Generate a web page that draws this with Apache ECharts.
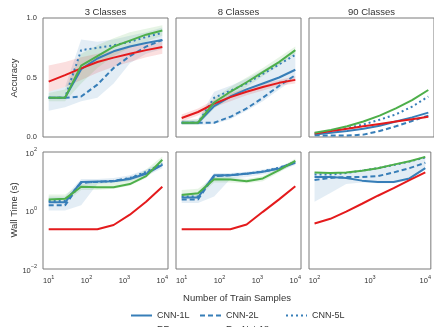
<!DOCTYPE html>
<html>
<head>
<meta charset="utf-8">
<script src="https://cdn.jsdelivr.net/npm/echarts@6/dist/echarts.min.js"></script>
<style>
html, body { margin: 0; padding: 0; background: #fff; }
#chart { width: 434px; height: 327px; }
</style>
</head>
<body>
<div id="chart"></div>
<script>
// train sample sizes
var nSmall = [10, 27, 72, 193, 518, 1389, 3728, 10000];
var nBig = [100, 193, 373, 720, 1389, 2683, 5179, 10000];

// accuracy - 3 classes
var acc3Cnn1 = [0.33, 0.33, 0.57, 0.66, 0.72, 0.76, 0.79, 0.815];
var acc3Cnn2 = [0.33, 0.33, 0.34, 0.44, 0.58, 0.68, 0.76, 0.815];
var acc3Cnn5 = [0.33, 0.33, 0.73, 0.75, 0.77, 0.80, 0.84, 0.875];
var acc3Rf   = [0.465, 0.52, 0.577, 0.63, 0.667, 0.70, 0.73, 0.757];
var acc3Res  = [0.33, 0.33, 0.60, 0.68, 0.76, 0.81, 0.86, 0.895];
// accuracy - 8 classes
var acc8Cnn1 = [0.12, 0.12, 0.26, 0.34, 0.40, 0.45, 0.50, 0.565];
var acc8Cnn2 = [0.12, 0.12, 0.12, 0.17, 0.24, 0.33, 0.43, 0.52];
var acc8Cnn5 = [0.12, 0.12, 0.33, 0.39, 0.45, 0.53, 0.61, 0.69];
var acc8Rf   = [0.16, 0.21, 0.28, 0.335, 0.38, 0.42, 0.455, 0.48];
var acc8Res  = [0.12, 0.12, 0.29, 0.38, 0.46, 0.545, 0.63, 0.73];
// accuracy - 90 classes
var acc90Cnn1 = [0.02, 0.035, 0.05, 0.07, 0.095, 0.13, 0.165, 0.205];
var acc90Cnn2 = [0.015, 0.012, 0.012, 0.02, 0.05, 0.09, 0.135, 0.18];
var acc90Cnn5 = [0.03, 0.05, 0.075, 0.105, 0.145, 0.19, 0.255, 0.34];
var acc90Rf   = [0.03, 0.05, 0.07, 0.09, 0.11, 0.13, 0.15, 0.17];
var acc90Res  = [0.035, 0.06, 0.09, 0.13, 0.18, 0.24, 0.31, 0.395];

// wall time (s) - 3 classes
var time3Cnn1 = [1.9, 1.9, 9.5, 9.8, 10, 12, 18, 36];
var time3Cnn2 = [1.5, 1.5, 9.0, 9.5, 10.5, 12.5, 19, 38];
var time3Cnn5 = [2.1, 2.1, 9.0, 9.5, 10, 13, 21, 40];
var time3Rf   = [0.23, 0.23, 0.23, 0.23, 0.32, 0.72, 2.0, 6.5];
var time3Res  = [2.4, 2.5, 6.5, 6.2, 6.2, 8, 15, 54];
// wall time - 8 classes
var time8Cnn1 = [2.8, 2.8, 16, 16, 18, 21, 27, 43];
var time8Cnn2 = [2.4, 2.4, 15, 16, 18.5, 21, 28, 45];
var time8Cnn5 = [3.0, 3.0, 15, 16.5, 18, 22, 29, 46];
var time8Rf   = [0.23, 0.23, 0.23, 0.23, 0.33, 0.9, 2.4, 6.7];
var time8Res  = [3.4, 3.9, 11.7, 11.5, 10, 12.5, 24, 50];
// wall time - 90 classes
var time90Cnn1 = [14, 14, 13, 10.5, 9.5, 9.5, 12.5, 28];
var time90Cnn2 = [11, 13, 14, 14, 15, 20, 28, 43];
var time90Cnn5 = [17, 17, 19, 23, 28, 36, 47, 65];
var time90Rf   = [0.36, 0.52, 0.92, 1.7, 3.2, 5.8, 11, 20];
var time90Res  = [20, 19, 20, 23, 28, 37, 48, 68];

// spread of the individual runs (faint lines), lower / upper
var acc3RfLo  = [0.38, 0.42, 0.48, 0.54, 0.59, 0.63, 0.67, 0.70];
var acc3RfHi  = [0.60, 0.63, 0.67, 0.70, 0.73, 0.76, 0.78, 0.80];
var acc3ResLo = [0.30, 0.30, 0.45, 0.58, 0.68, 0.75, 0.80, 0.85];
var acc3ResHi = [0.37, 0.40, 0.70, 0.77, 0.83, 0.88, 0.91, 0.94];
var acc3CnnLo = [0.22, 0.25, 0.30, 0.33, 0.45, 0.62, 0.70, 0.74];
var acc3CnnHi = [0.38, 0.42, 0.82, 0.80, 0.82, 0.85, 0.88, 0.92];
var acc8RfLo  = [0.13, 0.18, 0.25, 0.30, 0.35, 0.39, 0.43, 0.45];
var acc8RfHi  = [0.19, 0.24, 0.31, 0.37, 0.41, 0.45, 0.48, 0.51];
var acc8ResLo = [0.10, 0.10, 0.24, 0.33, 0.42, 0.51, 0.60, 0.70];
var acc8ResHi = [0.14, 0.15, 0.33, 0.42, 0.50, 0.58, 0.67, 0.76];
var acc8CnnLo = [0.10, 0.10, 0.11, 0.15, 0.22, 0.30, 0.40, 0.49];
var acc8CnnHi = [0.14, 0.15, 0.38, 0.43, 0.49, 0.56, 0.64, 0.72];
var time3CnnLo = [1.0, 1.0, 1.5, 8.0, 9, 10, 15, 28];
var time3CnnHi = [3.0, 3.0, 12, 12, 13, 16, 25, 45];
var time3ResLo = [1.8, 1.8, 5, 5, 5.5, 7, 13, 40];
var time3ResHi = [3.5, 3.5, 8, 9, 10, 12, 25, 70];
var time8CnnLo = [1.8, 1.8, 3, 12, 14, 17, 22, 36];
var time8CnnHi = [4, 4, 19, 19, 21, 25, 32, 52];
var time8ResLo = [2.5, 2.8, 9, 9, 8.5, 10, 20, 42];
var time8ResHi = [5, 5.5, 14, 14, 12, 15, 28, 60];
var time90CnnLo = [2.0, 4, 8, 9, 8.5, 8.5, 11, 25];
var time90CnnHi = [20, 19, 21, 25, 30, 38, 50, 68];

var panelTitles = ['3 Classes', '8 Classes', '90 Classes'];

var blue = '#377eb8', green = '#4daf4a', red = '#e41a1c';
var font = 'Liberation Sans, Arial, sans-serif';
var txt = '#333';

var panels = [
    {n: nSmall, cnn1: acc3Cnn1, cnn2: acc3Cnn2, cnn5: acc3Cnn5, rf: acc3Rf, res: acc3Res,
     bands: [[acc3CnnLo, acc3CnnHi, blue], [acc3RfLo, acc3RfHi, red], [acc3ResLo, acc3ResHi, green]]},
    {n: nSmall, cnn1: acc8Cnn1, cnn2: acc8Cnn2, cnn5: acc8Cnn5, rf: acc8Rf, res: acc8Res,
     bands: [[acc8CnnLo, acc8CnnHi, blue], [acc8RfLo, acc8RfHi, red], [acc8ResLo, acc8ResHi, green]]},
    {n: nBig, cnn1: acc90Cnn1, cnn2: acc90Cnn2, cnn5: acc90Cnn5, rf: acc90Rf, res: acc90Res, bands: []},
    {n: nSmall, cnn1: time3Cnn1, cnn2: time3Cnn2, cnn5: time3Cnn5, rf: time3Rf, res: time3Res,
     bands: [[time3CnnLo, time3CnnHi, blue], [time3ResLo, time3ResHi, green]]},
    {n: nSmall, cnn1: time8Cnn1, cnn2: time8Cnn2, cnn5: time8Cnn5, rf: time8Rf, res: time8Res,
     bands: [[time8CnnLo, time8CnnHi, blue], [time8ResLo, time8ResHi, green]]},
    {n: nBig, cnn1: time90Cnn1, cnn2: time90Cnn2, cnn5: time90Cnn5, rf: time90Rf, res: time90Res,
     bands: [[time90CnnLo, time90CnnHi, blue]]}
];

var gridPos = [
    {left: 43, top: 18, width: 125, height: 119},
    {left: 176, top: 18, width: 125, height: 119},
    {left: 309, top: 18, width: 126, height: 119},
    {left: 43, top: 152, width: 125, height: 117},
    {left: 176, top: 152, width: 125, height: 117},
    {left: 309, top: 152, width: 126, height: 117}
];

function pairs(xs, ys) {
    return xs.map(function (x, i) { return [x, ys[i]]; });
}

// 10^n labels
function powLabel(v) {
    var e = Math.log10(v);
    if (Math.abs(e - Math.round(e)) > 1e-6) return '';
    e = Math.round(e);
    return '{b|10}{s|' + (e < 0 ? '\u2212' + (-e) : e) + '}';
}
var powRich = {
    b: {fontSize: 7.5, fontFamily: font, color: txt, verticalAlign: 'bottom', lineHeight: 11},
    s: {fontSize: 5.5, fontFamily: font, color: txt, verticalAlign: 'top', lineHeight: 11}
};

// filled envelope between lo and hi, placed through the axes
function bandSeries(i, xs, lo, hi, color) {
    return {
        type: 'custom', xAxisIndex: i, yAxisIndex: i, silent: true, z: 1,
        data: pairs(xs, hi),
        renderItem: function (params, api) {
            if (params.dataIndex !== 0) return null;
            var pts = [];
            for (var j = 0; j < xs.length; j++) pts.push(api.coord([xs[j], hi[j]]));
            for (var j = xs.length - 1; j >= 0; j--) pts.push(api.coord([xs[j], lo[j]]));
            return {type: 'polygon', shape: {points: pts}, style: {fill: color, opacity: 0.14}};
        }
    };
}

var grids = [], xAxes = [], yAxes = [], series = [];

gridPos.forEach(function (g, i) {
    grids.push({left: g.left, top: g.top, width: g.width, height: g.height,
        show: true, borderColor: '#7a7a7a', borderWidth: 1, backgroundColor: '#fff'});

    var big = (i % 3 == 2);
    xAxes.push({
        type: 'log', gridIndex: i,
        min: big ? Math.pow(10, 1.9) : Math.pow(10, 0.85),
        max: big ? Math.pow(10, 4.1) : Math.pow(10, 4.15),
        axisLine: {show: false}, axisTick: {show: false}, splitLine: {show: false},
        axisLabel: {show: i >= 3, formatter: powLabel, rich: powRich, margin: 5,
            showMinLabel: true, showMaxLabel: true, hideOverlap: false}
    });

    if (i < 3) {
        yAxes.push({
            type: 'value', gridIndex: i, min: 0, max: 1, interval: 0.5,
            axisLine: {show: false}, axisTick: {show: false}, splitLine: {show: false},
            axisLabel: {show: i == 0, fontSize: 7.5, fontFamily: font, color: txt, margin: 6,
                formatter: function (v) { return v.toFixed(1); }}
        });
    } else {
        yAxes.push({
            type: 'log', gridIndex: i, min: 0.01, max: 100,
            axisLine: {show: false}, axisTick: {show: false}, splitLine: {show: false},
            axisLabel: {show: i == 3, margin: 6, rich: powRich,
                formatter: function (v) {
                    var e = Math.round(Math.log10(v));
                    return (e % 2 == 0) ? powLabel(v) : '';
                }}
        });
    }

    var p = panels[i];
    p.bands.forEach(function (b) {
        series.push(bandSeries(i, p.n, b[0], b[1], b[2]));
    });

    var lines = [
        ['CNN-1L', p.cnn1, blue, 'solid'],
        ['CNN-2L', p.cnn2, blue, [5, 3]],
        ['CNN-5L', p.cnn5, blue, [2, 3]],
        ['RF', p.rf, red, 'solid'],
        ['ResNet-18', p.res, green, 'solid']
    ];
    lines.forEach(function (l) {
        series.push({name: l[0], type: 'line', xAxisIndex: i, yAxisIndex: i, symbol: 'none',
            silent: true, z: 3, itemStyle: {color: l[2]},
            lineStyle: {color: l[2], width: 2, type: l[3]}, data: pairs(p.n, l[1])});
    });
});

// one legend per entry, laid out like matplotlib's 3-column legend
function legendAt(name, left, top) {
    return {
        data: [name], left: left, top: top, orient: 'horizontal', selectedMode: false,
        itemWidth: 21, itemHeight: 8, itemGap: 0,
        itemStyle: {opacity: 0},
        textStyle: {fontSize: 9, fontFamily: font, color: txt}
    };
}

var graphics = [];
panelTitles.forEach(function (t, i) {
    graphics.push({type: 'text', x: gridPos[i].left + 62.5, y: 12, silent: true,
        style: {text: t, font: '9.5px ' + font, fill: txt, textAlign: 'center', textVerticalAlign: 'middle'}});
});
graphics.push({type: 'text', x: 14, y: 78, rotation: Math.PI / 2, silent: true,
    style: {text: 'Accuracy', font: '9.5px ' + font, fill: txt, textAlign: 'center', textVerticalAlign: 'middle'}});
graphics.push({type: 'text', x: 14, y: 210, rotation: Math.PI / 2, silent: true,
    style: {text: 'Wall Time (s)', font: '9.5px ' + font, fill: txt, textAlign: 'center', textVerticalAlign: 'middle'}});
graphics.push({type: 'text', x: 237, y: 298, silent: true,
    style: {text: 'Number of Train Samples', font: '9.5px ' + font, fill: txt, textAlign: 'center', textVerticalAlign: 'middle'}});

var myChart = echarts.init(document.getElementById('chart'), null, {renderer: 'canvas'});
myChart.setOption({
    animation: false,
    backgroundColor: '#fff',
    grid: grids,
    xAxis: xAxes,
    yAxis: yAxes,
    legend: [
        legendAt('CNN-1L', 125, 306),
        legendAt('CNN-2L', 194, 306),
        legendAt('CNN-5L', 280, 306),
        legendAt('RF', 125, 320),
        legendAt('ResNet-18', 194, 320)
    ],
    graphic: graphics,
    series: series
});
</script>
</body>
</html>
